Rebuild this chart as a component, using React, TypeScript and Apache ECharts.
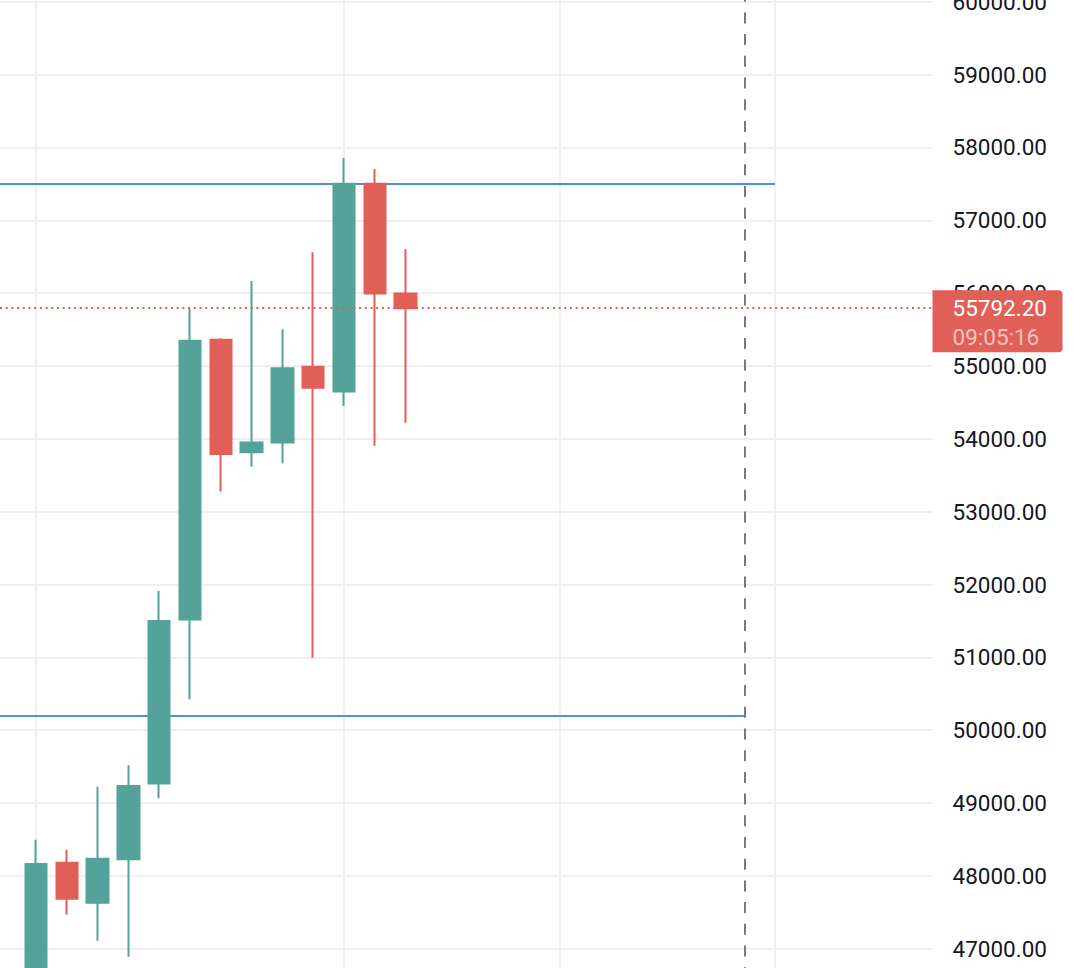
import React, { useEffect, useRef } from "react";
import * as echarts from "echarts";

// ---- data ----
const candleIndex = [0, 1, 2, 3, 4, 5, 6, 7, 8, 9, 10, 11, 12];
const opens = [46400, 48180, 47630, 48230, 49270, 51520, 55360, 53815, 53950, 54990, 54650, 57500, 55995];
const closes = [48165, 47685, 48235, 49235, 51500, 55345, 53790, 53950, 54970, 54700, 57500, 55995, 55792.2];
const lows = [46200, 47465, 47110, 46890, 49065, 50425, 53275, 53615, 53665, 50995, 54450, 53905, 54220];
const highs = [48495, 48355, 49225, 49520, 51910, 55790, 55380, 56165, 55505, 56560, 57855, 57705, 56605];

const timeGridIndex = [0, 10, 17, 24];
const resistanceLevel = 57500;
const resistanceEndIndex = 24;
const supportLevel = 50200;
const supportEndIndex = 23;
const sessionBreakIndex = 23;
const lastPrice = 55792.2;
const countdown = "09:05:16";

const xRange = [-1.169, 29.11];
const yRange = [46000, 61000];
const yStep = 1000;

const UP = "#53a39a";
const DOWN = "#e05f57";
const LEVEL = "#4f92dc";
const GRID = "#efeff2";
const FONT = "Roboto";

export default function App() {
  const ref = useRef<HTMLDivElement>(null);

  useEffect(() => {
    if (!ref.current) return;
    const chart = echarts.init(ref.current, undefined, { renderer: "svg" });

    const candleData = candleIndex.map((x, i) => [x, opens[i], closes[i], lows[i], highs[i]]);

    const option: any = {
      animation: false,
      backgroundColor: "#ffffff",
      grid: {
        left: 0,
        right: 141.5,
        top: -71.15,
        bottom: -53.6,
        containLabel: false,
        outerBoundsMode: "none",
      },
      xAxis: {
        type: "value",
        min: xRange[0],
        max: xRange[1],
        show: false,
        splitLine: { show: false },
      },
      yAxis: {
        type: "value",
        position: "right",
        min: yRange[0],
        max: yRange[1],
        interval: yStep,
        scale: true,
        axisLine: { show: true, lineStyle: { color: "#e0e3eb", width: 2 } },
        axisTick: { show: false },
        axisLabel: {
          margin: 20,
          fontSize: 22.5,
          fontFamily: FONT,
          color: "#131722",
          formatter: (v: number) => v.toFixed(2),
        },
        splitLine: { show: true, lineStyle: { color: GRID, width: 2 } },
      },
      series: [
        {
          type: "line",
          data: [],
          silent: true,
          z: 1,
          markLine: {
            silent: true,
            z: 1,
            symbol: "none",
            label: { show: false },
            emphasis: { disabled: true },
            data: [
              ...timeGridIndex.map((x) => ({
                xAxis: x,
                lineStyle: { color: GRID, width: 2, type: "solid" },
              })),
              [
                { coord: [xRange[0], resistanceLevel], lineStyle: { color: LEVEL, width: 2.2, type: "solid" } },
                { coord: [resistanceEndIndex, resistanceLevel] },
              ],
              [
                { coord: [xRange[0], supportLevel], lineStyle: { color: LEVEL, width: 2.2, type: "solid" } },
                { coord: [supportEndIndex, supportLevel] },
              ],
            ],
          },
        },
        {
          type: "candlestick",
          z: 2,
          barWidth: 22,
          data: candleData,
          encode: { x: 0, y: [1, 2, 3, 4] },
          itemStyle: {
            color: UP,
            color0: DOWN,
            borderColor: UP,
            borderColor0: DOWN,
            borderWidth: 2,
          },
          markLine: {
            silent: true,
            z: 5,
            symbol: "none",
            label: { show: false },
            emphasis: { disabled: true },
            data: [
              {
                yAxis: lastPrice,
                lineStyle: { color: DOWN, width: 2, type: [2, 3.7], cap: "butt" },
              },
              {
                xAxis: sessionBreakIndex,
                lineStyle: { color: "#737985", width: 2, type: [11, 10.7], cap: "butt" },
              },
            ],
          },
        },
      ],
    };

    chart.setOption(option);

    const py = chart.convertToPixel({ yAxisIndex: 0 }, lastPrice) as number;
    const axisX = chart.convertToPixel({ xAxisIndex: 0 }, xRange[1]) as number;

    chart.setOption({
      graphic: [
        {
          type: "rect",
          z: 100,
          shape: { x: axisX, y: py - 18, width: 130, height: 62, r: [0, 4, 4, 0] },
          style: { fill: DOWN },
        },
        {
          type: "text",
          z: 101,
          x: axisX + 20,
          y: py,
          style: {
            text: lastPrice.toFixed(2),
            fill: "#ffffff",
            fontSize: 22.5,
            fontFamily: FONT,
            verticalAlign: "middle",
            align: "left",
          },
        },
        {
          type: "text",
          z: 101,
          x: axisX + 20,
          y: py + 28.3,
          style: {
            text: countdown,
            fill: "#f8c3bf",
            fontSize: 22.5,
            fontFamily: FONT,
            verticalAlign: "middle",
            align: "left",
          },
        },
      ],
    });

    return () => chart.dispose();
  }, []);

  return (
    <div
      ref={ref}
      style={{ position: "absolute", left: 0, top: 0, width: "1074px", height: "968px", background: "#fff" }}
    />
  );
}
